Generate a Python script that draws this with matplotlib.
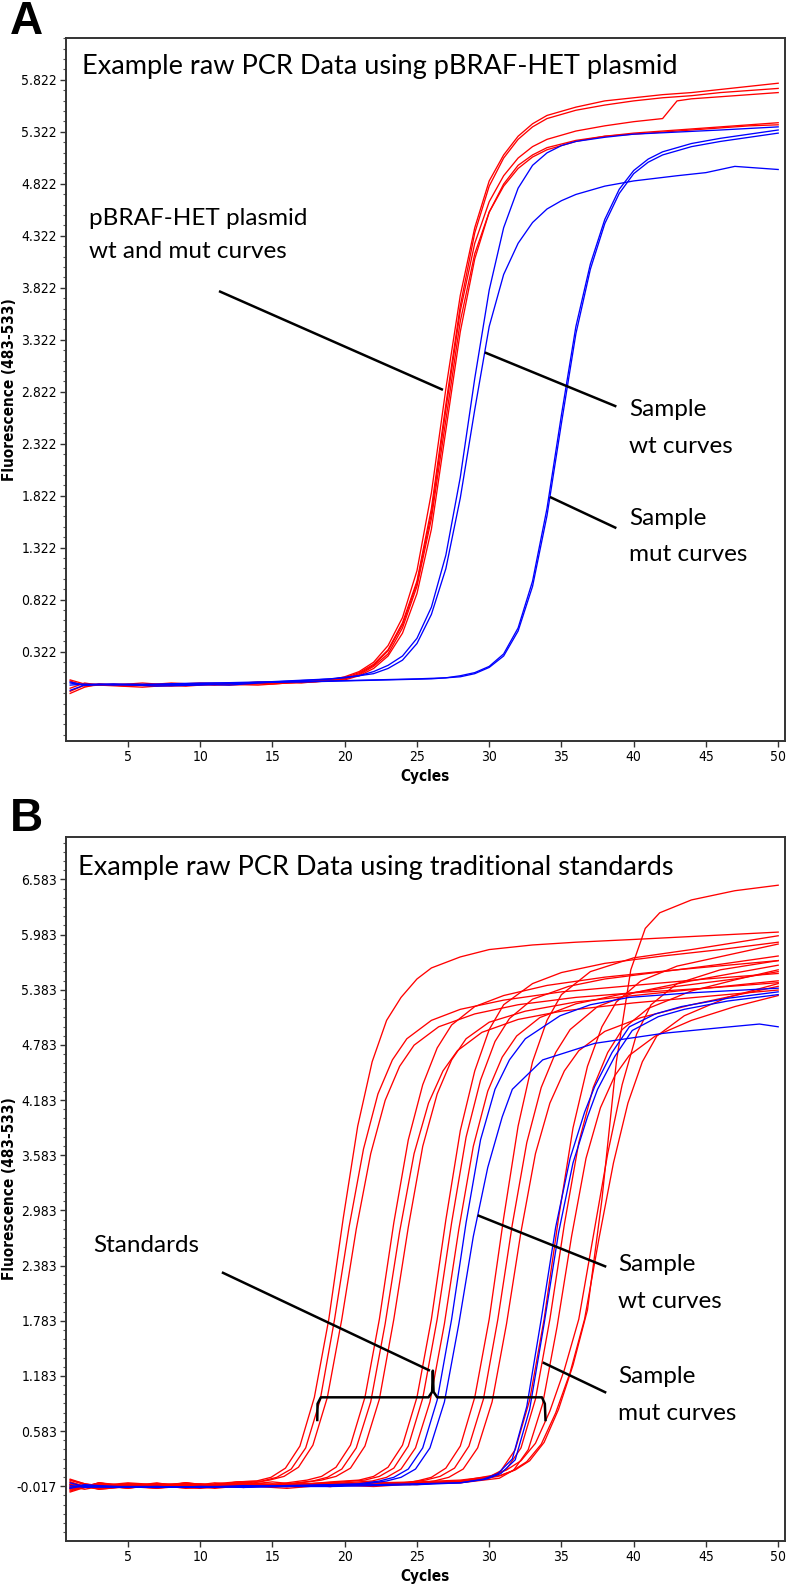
import matplotlib
matplotlib.use('Agg')
import matplotlib.pyplot as plt
from matplotlib import font_manager
from matplotlib.ticker import FixedLocator, MultipleLocator, FormatStrFormatter

# fonts: the instrument software uses a narrow sans for the axes
_fonts = {(f.name, f.stretch) for f in font_manager.fontManager.ttflist}
if any(n == 'Liberation Sans Narrow' for n, s in _fonts):
    TICK_FONT, TICK_STRETCH, TICK_SIZE = ['Liberation Sans Narrow', 'DejaVu Sans'], 'normal', 11.5
elif ('DejaVu Sans', 'condensed') in _fonts:
    TICK_FONT, TICK_STRETCH, TICK_SIZE = ['DejaVu Sans'], 'condensed', 10
else:
    TICK_FONT, TICK_STRETCH, TICK_SIZE = ['Liberation Sans', 'DejaVu Sans'], 'normal', 9.5
NOTE_FONT = ['Lato', 'DejaVu Sans']

plt.rcParams['font.family'] = TICK_FONT
plt.rcParams['font.stretch'] = TICK_STRETCH
plt.rcParams['font.size'] = TICK_SIZE

# ---------------- data: (cycle, fluorescence) ----------------
X_TICKS = [5, 10, 15, 20, 25, 30, 35, 40, 45, 50]
A_YTICKS = [0.322, 0.822, 1.322, 1.822, 2.322, 2.822, 3.322, 3.822, 4.322, 4.822, 5.322, 5.822]
B_YTICKS = [-0.017, 0.583, 1.183, 1.783, 2.383, 2.983, 3.583, 4.183, 4.783, 5.383, 5.983, 6.583]

# panel A - plasmid curves (red)
A_PLASMID = [
    [(1, -0.06), (2, 0.0), (3, 0.01), (5, -0.01), (8, 0.02), (11, 0.0), (14, 0.03), (17, 0.02), (19, 0.05),
     (20, 0.08), (21, 0.13), (22, 0.22), (23, 0.38), (24, 0.65), (25, 1.1), (26, 1.85), (27, 2.85), (28, 3.75),
     (29, 4.4), (30, 4.85), (31, 5.1), (32, 5.28), (33, 5.4), (34, 5.48), (36, 5.56), (38, 5.62), (40, 5.65),
     (42, 5.68), (44, 5.7), (46, 5.73), (48, 5.76), (50, 5.79)],
    [(1, 0.05), (2, 0.01), (4, 0.0), (6, 0.02), (9, -0.01), (12, 0.02), (15, 0.01), (18, 0.04), (20, 0.07),
     (21, 0.12), (22, 0.2), (23, 0.34), (24, 0.6), (25, 1.0), (26, 1.7), (27, 2.7), (28, 3.65), (29, 4.35),
     (30, 4.8), (31, 5.07), (32, 5.25), (33, 5.37), (34, 5.45), (36, 5.53), (38, 5.58), (40, 5.62), (42, 5.65),
     (44, 5.67), (46, 5.7), (48, 5.72), (50, 5.74)],
    [(1, -0.03), (2, 0.02), (3, 0.0), (6, -0.02), (9, 0.01), (12, 0.0), (15, 0.02), (18, 0.03), (20, 0.06),
     (21, 0.11), (22, 0.19), (23, 0.33), (24, 0.58), (25, 0.98), (26, 1.65), (27, 2.65), (28, 3.6), (29, 4.25),
     (30, 4.65), (31, 4.9), (32, 5.07), (33, 5.18), (34, 5.25), (36, 5.33), (38, 5.38), (40, 5.42), (42, 5.45),
     (43, 5.62), (44, 5.64), (46, 5.66), (48, 5.68), (50, 5.7)],
    [(1, 0.04), (2, -0.01), (4, 0.01), (7, 0.0), (10, 0.02), (13, 0.01), (16, 0.03), (19, 0.04), (20, 0.06),
     (21, 0.1), (22, 0.18), (23, 0.3), (24, 0.55), (25, 0.95), (26, 1.6), (27, 2.55), (28, 3.5), (29, 4.15),
     (30, 4.55), (31, 4.8), (32, 4.97), (33, 5.08), (34, 5.15), (36, 5.23), (38, 5.28), (40, 5.31), (42, 5.33),
     (44, 5.35), (46, 5.37), (48, 5.39), (50, 5.41)],
    [(1, -0.08), (2, -0.02), (3, 0.01), (5, 0.0), (8, -0.01), (11, 0.01), (14, 0.0), (17, 0.03), (19, 0.04),
     (20, 0.05), (21, 0.09), (22, 0.16), (23, 0.28), (24, 0.5), (25, 0.88), (26, 1.5), (27, 2.45), (28, 3.4),
     (29, 4.1), (30, 4.55), (31, 4.82), (32, 5.0), (33, 5.1), (34, 5.17), (36, 5.24), (38, 5.28), (40, 5.3),
     (42, 5.32), (44, 5.34), (46, 5.36), (48, 5.38), (50, 5.39)],
]

# panel A - sample curves (blue)
A_SAMPLE = [
    # wt
    [(1, 0.02), (2, 0.0), (4, 0.01), (7, -0.01), (10, 0.0), (13, 0.02), (16, 0.04), (19, 0.06), (21, 0.09),
     (22, 0.13), (23, 0.19), (24, 0.28), (25, 0.45), (26, 0.75), (27, 1.25), (28, 2.0), (29, 2.95), (30, 3.8),
     (31, 4.4), (32, 4.78), (33, 5.0), (34, 5.12), (35, 5.19), (36, 5.23), (38, 5.27), (40, 5.3), (43, 5.32),
     (46, 5.34), (50, 5.37)],
    [(1, -0.05), (2, 0.0), (3, 0.01), (6, 0.0), (9, 0.01), (12, 0.0), (15, 0.03), (18, 0.05), (20, 0.07),
     (22, 0.11), (23, 0.16), (24, 0.24), (25, 0.4), (26, 0.68), (27, 1.12), (28, 1.8), (29, 2.65), (30, 3.45),
     (31, 3.95), (32, 4.25), (33, 4.45), (34, 4.58), (35, 4.66), (36, 4.72), (38, 4.8), (40, 4.85), (43, 4.9),
     (45, 4.93), (47, 4.99), (48, 4.98), (50, 4.96)],
    # mut
    [(1, 0.0), (2, 0.01), (4, 0.0), (7, 0.01), (10, 0.02), (13, 0.02), (16, 0.03), (19, 0.04), (22, 0.05),
     (25, 0.06), (27, 0.07), (28, 0.09), (29, 0.12), (30, 0.18), (31, 0.3), (32, 0.55), (33, 1.0), (34, 1.7),
     (35, 2.6), (36, 3.45), (37, 4.05), (38, 4.48), (39, 4.77), (40, 4.95), (41, 5.06), (42, 5.13), (44, 5.21),
     (46, 5.26), (48, 5.3), (50, 5.34)],
    [(1, 0.03), (2, 0.0), (5, 0.01), (8, 0.0), (11, 0.02), (14, 0.03), (17, 0.03), (20, 0.04), (23, 0.05),
     (26, 0.06), (28, 0.08), (29, 0.11), (30, 0.17), (31, 0.28), (32, 0.52), (33, 0.95), (34, 1.63), (35, 2.52),
     (36, 3.38), (37, 4.0), (38, 4.44), (39, 4.73), (40, 4.92), (41, 5.03), (42, 5.1), (44, 5.18), (46, 5.23),
     (48, 5.27), (50, 5.31)],
]

# panel B - traditional standards (red)
B_STANDARDS = [
    [(1, -0.08), (2, -0.03), (3, 0.02), (5, -0.02), (7, 0.02), (9, -0.03), (11, 0.01), (12.5, 0.03), (13.9, 0.04),
     (14.9, 0.08), (15.9, 0.18), (16.9, 0.42), (17.9, 0.95), (18.9, 1.8), (19.9, 2.9), (20.9, 3.9), (21.9, 4.6),
     (22.9, 5.05), (23.9, 5.3), (25, 5.5), (26, 5.62), (28, 5.74), (30, 5.82), (33, 5.87), (36, 5.9), (40, 5.93),
     (45, 5.97), (50, 6.01)],
    [(1, 0.03), (2, -0.02), (3, -0.04), (5, 0.01), (7, -0.03), (9, 0.02), (11, -0.01), (12.5, 0.03), (14.3, 0.04),
     (15.3, 0.08), (16.3, 0.17), (17.3, 0.4), (18.3, 0.92), (19.3, 1.8), (20.3, 2.8), (21.3, 3.65), (22.3, 4.25),
     (23.3, 4.62), (24.3, 4.85), (26, 5.05), (28, 5.17), (31, 5.27), (35, 5.36), (40, 5.43), (45, 5.5), (50, 5.56)],
    [(1, -0.04), (2, -0.01), (3, -0.05), (5, -0.02), (7, 0.01), (9, -0.02), (11, 0.02), (13, 0.0), (14.8, 0.05),
     (15.8, 0.09), (16.8, 0.19), (17.8, 0.43), (18.8, 0.95), (19.8, 1.8), (20.8, 2.78), (21.8, 3.6), (22.8, 4.18),
     (23.8, 4.55), (24.8, 4.78), (26.5, 4.98), (29, 5.12), (32, 5.22), (36, 5.3), (40, 5.35), (45, 5.4), (50, 5.46)],
    [(1, 0.0), (2, -0.02), (3, 0.02), (5, -0.03), (7, -0.02), (9, 0.02), (11, -0.01), (13, 0.03), (15, 0.0),
     (16, 0.02), (17.4, 0.05), (18.4, 0.09), (19.4, 0.19), (20.4, 0.43), (21.4, 0.95), (22.4, 1.8), (23.4, 2.85),
     (24.4, 3.75), (25.4, 4.35), (26.4, 4.75), (27.4, 5.0), (29, 5.2), (31, 5.32), (34, 5.43), (38, 5.52), (43, 5.6),
     (50, 5.7)],
    [(1, -0.06), (2, -0.03), (3, -0.01), (5, 0.02), (7, 0.0), (9, -0.04), (11, -0.02), (13, 0.02), (15, -0.01),
     (16, 0.01), (17.8, 0.04), (18.8, 0.08), (19.8, 0.17), (20.8, 0.4), (21.8, 0.9), (22.8, 1.75), (23.8, 2.75),
     (24.8, 3.6), (25.8, 4.15), (26.8, 4.5), (27.8, 4.72), (29.5, 4.92), (32, 5.06), (35, 5.15), (40, 5.24),
     (45, 5.31), (50, 5.38)],
    [(1, 0.05), (2, 0.0), (3, -0.03), (5, -0.01), (7, -0.04), (9, 0.0), (11, -0.02), (13, 0.02), (15, -0.02),
     (16.5, 0.01), (18.4, 0.05), (19.4, 0.09), (20.4, 0.18), (21.4, 0.42), (22.4, 0.93), (23.4, 1.8), (24.4, 2.8),
     (25.4, 3.68), (26.4, 4.25), (27.4, 4.62), (28.4, 4.85), (30, 5.03), (32.5, 5.15), (36, 5.25), (40, 5.32),
     (45, 5.4), (50, 5.48)],
    [(1, -0.02), (2, -0.05), (3, -0.02), (5, 0.01), (7, -0.01), (9, 0.02), (11, -0.03), (13, 0.0), (15, 0.03),
     (17, 0.0), (19, 0.03), (21, 0.05), (22, 0.09), (23, 0.19), (24, 0.43), (25, 0.95), (26, 1.8), (27, 2.88),
     (28, 3.85), (29, 4.5), (30, 4.95), (31, 5.22), (33, 5.45), (35, 5.57), (38, 5.67), (42, 5.75), (46, 5.82),
     (50, 5.9)],
    [(1, 0.06), (2, 0.01), (3, -0.02), (5, 0.0), (7, -0.03), (9, 0.01), (11, -0.01), (13, 0.02), (15, -0.02),
     (17, 0.01), (19, 0.02), (21.4, 0.05), (22.4, 0.09), (23.4, 0.18), (24.4, 0.42), (25.4, 0.94), (26.4, 1.8),
     (27.4, 2.85), (28.4, 3.78), (29.4, 4.4), (30.4, 4.82), (31.4, 5.07), (33, 5.28), (35.5, 5.42), (38, 5.5),
     (42, 5.58), (46, 5.66), (50, 5.75)],
    [(1, -0.07), (2, -0.02), (3, -0.04), (5, -0.01), (7, -0.03), (9, 0.0), (11, -0.04), (13, -0.01), (15, 0.01),
     (17, -0.02), (19, 0.01), (21.9, 0.04), (22.9, 0.08), (23.9, 0.17), (24.9, 0.4), (25.9, 0.9), (26.9, 1.75),
     (27.9, 2.78), (28.9, 3.68), (29.9, 4.28), (30.9, 4.65), (31.9, 4.88), (33.5, 5.08), (36, 5.23), (39, 5.33),
     (43, 5.42), (47, 5.5), (50, 5.58)],
    [(1, 0.0), (2, -0.02), (3, 0.01), (5, -0.02), (7, -0.04), (10, 0.0), (13, -0.03), (16, 0.01), (19, -0.01),
     (22, 0.03), (24, 0.01), (25, 0.04), (26, 0.08), (27, 0.18), (28, 0.42), (29, 0.95), (30, 1.8), (31, 2.9),
     (32, 3.9), (33, 4.6), (34, 5.05), (35, 5.33), (37, 5.58), (40, 5.73), (44, 5.82), (50, 5.97)],
    [(1, -0.03), (2, 0.0), (3, -0.03), (5, 0.01), (7, 0.0), (10, -0.03), (13, 0.01), (16, -0.02), (19, 0.02),
     (22, -0.01), (24, 0.02), (25.6, 0.05), (26.6, 0.09), (27.6, 0.18), (28.6, 0.42), (29.6, 0.93), (30.6, 1.8),
     (31.6, 2.83), (32.6, 3.72), (33.6, 4.32), (34.6, 4.7), (35.6, 4.95), (37.5, 5.2), (40, 5.35), (44, 5.48),
     (50, 5.65)],
    [(1, 0.05), (2, 0.01), (3, -0.01), (5, -0.03), (7, -0.02), (10, -0.04), (13, -0.01), (16, 0.01), (19, -0.02),
     (22, 0.02), (24.5, 0.0), (26.2, 0.04), (27.2, 0.08), (28.2, 0.17), (29.2, 0.4), (30.2, 0.9), (31.2, 1.75),
     (32.2, 2.75), (33.2, 3.6), (34.2, 4.15), (35.2, 4.5), (36.2, 4.72), (38, 4.93), (40.5, 5.08), (44, 5.22),
     (47, 5.32), (50, 5.42)],
    [(1, -0.02), (2, -0.01), (3, -0.04), (5, -0.02), (7, 0.01), (10, 0.0), (13, -0.03), (16, 0.0), (19, -0.02),
     (22, 0.02), (25, 0.0), (28, 0.04), (29.8, 0.07), (30.8, 0.15), (31.8, 0.38), (32.8, 0.92), (33.8, 1.8),
     (34.8, 2.9), (35.8, 3.88), (36.8, 4.55), (37.8, 4.98), (38.8, 5.25), (40.5, 5.48), (43, 5.64), (46.5, 5.76),
     (50, 5.88)],
    [(1, 0.03), (2, -0.02), (3, 0.0), (5, -0.04), (7, 0.01), (10, -0.01), (13, 0.02), (16, -0.02), (19, 0.01),
     (22, -0.01), (25, 0.02), (28, 0.03), (30.2, 0.08), (31.2, 0.17), (32.2, 0.4), (33.2, 0.93), (34.2, 1.8),
     (35.2, 2.83), (36.2, 3.72), (37.2, 4.32), (38.2, 4.7), (39.2, 4.95), (41, 5.18), (44, 5.37), (47, 5.49),
     (50, 5.6)],
    [(1, -0.05), (2, -0.03), (3, -0.01), (5, -0.04), (7, 0.0), (10, -0.03), (13, -0.01), (16, -0.04), (19, 0.0),
     (22, -0.02), (25, 0.01), (28, 0.02), (30.7, 0.07), (31.7, 0.16), (32.7, 0.38), (33.7, 0.88), (34.7, 1.72),
     (35.7, 2.7), (36.7, 3.55), (37.7, 4.1), (38.7, 4.45), (39.7, 4.67), (41.5, 4.88), (44, 5.05), (47, 5.2),
     (50, 5.32)],
    [(1, 0.01), (2, -0.02), (3, 0.02), (5, -0.01), (7, -0.03), (10, 0.01), (13, -0.02), (16, 0.0), (19, 0.02),
     (22, 0.0), (25, 0.02), (28, 0.04), (30.2, 0.1), (31.2, 0.16), (32.2, 0.26), (33.2, 0.45), (34.2, 0.8),
     (35.2, 1.25), (36.2, 1.8), (37.2, 2.7), (38.2, 3.6), (39.2, 4.35), (40.2, 4.9), (41.2, 5.22), (43, 5.45),
     (46, 5.6), (50, 5.7)],
    [(1, -0.04), (2, -0.02), (3, -0.05), (5, -0.02), (7, -0.01), (10, -0.03), (13, 0.0), (16, -0.02), (19, 0.01),
     (22, -0.01), (25, 0.02), (28, 0.03), (30.6, 0.09), (31.6, 0.15), (32.6, 0.25), (33.6, 0.44), (34.6, 0.78),
     (35.6, 1.22), (36.6, 1.8), (37.6, 2.68), (38.6, 3.5), (39.6, 4.15), (40.6, 4.6), (41.6, 4.88), (43.5, 5.1),
     (46.5, 5.3), (50, 5.45)],
    [(1, 0.0), (2, -0.03), (3, 0.01), (5, -0.03), (7, -0.02), (10, 0.0), (13, -0.02), (16, -0.01), (19, 0.01),
     (22, 0.02), (25, 0.03), (28, 0.05), (30.8, 0.1), (31.8, 0.16), (32.8, 0.26), (33.8, 0.46), (34.8, 0.82),
     (35.8, 1.3), (36.8, 1.9), (37.8, 3.1), (38.8, 4.6), (39.8, 5.6), (40.8, 6.05), (41.8, 6.22), (44, 6.36),
     (47, 6.46), (50, 6.52)],
]

# panel B - sample curves (blue)
B_SAMPLE = [
    # wt
    [(1, -0.03), (2, 0.0), (4, -0.02), (7, -0.03), (10, -0.02), (13, -0.02), (16, -0.01), (19, 0.0), (21, 0.01),
     (22.4, 0.04), (23.4, 0.08), (24.4, 0.17), (25.4, 0.4), (26.4, 0.92), (27.4, 1.8), (28.4, 2.85), (29.4, 3.75),
     (30.4, 4.3), (31.4, 4.62), (32.5, 4.85), (34.9, 5.1), (37, 5.22), (39.7, 5.3), (44, 5.35), (50, 5.4)],
    [(1, 0.02), (2, -0.02), (4, -0.03), (7, -0.02), (10, -0.03), (13, -0.01), (16, -0.02), (19, 0.0), (21, 0.0),
     (22.9, 0.04), (23.9, 0.08), (24.9, 0.17), (25.9, 0.4), (26.9, 0.9), (27.9, 1.75), (28.9, 2.7), (29.9, 3.45),
     (30.9, 4.0), (31.6, 4.3), (33.7, 4.62), (37.3, 4.8), (42.1, 4.91), (46, 4.97), (48.7, 5.01), (50, 4.98)],
    # mut
    [(1, -0.04), (2, -0.01), (4, -0.02), (7, -0.03), (10, -0.02), (13, -0.03), (16, -0.02), (19, -0.02), (22, -0.01),
     (25, 0.0), (28, 0.02), (29.6, 0.06), (30.6, 0.12), (31.6, 0.28), (32.6, 0.85), (33.6, 1.8), (34.6, 2.8),
     (35.6, 3.55), (36.6, 4.05), (37.3, 4.33), (38.5, 4.7), (39.7, 4.98), (41.5, 5.12), (43.3, 5.2), (46.5, 5.29),
     (50, 5.36)],
    [(1, -0.01), (2, -0.03), (4, -0.02), (7, -0.02), (10, -0.03), (13, -0.02), (16, -0.01), (19, -0.01), (22, 0.0),
     (25, 0.01), (28, 0.02), (29.8, 0.06), (30.8, 0.12), (31.8, 0.27), (32.8, 0.82), (33.8, 1.75), (34.8, 2.74),
     (35.8, 3.5), (36.8, 4.0), (37.5, 4.3), (38.7, 4.66), (39.9, 4.94), (41.7, 5.09), (43.5, 5.17), (46.5, 5.26),
     (50, 5.33)],
]

# ---------------- figure ----------------
fig = plt.figure(figsize=(7.91, 15.92), dpi=100)
ax_a = fig.add_axes([0.0834, 0.5346, 0.909, 0.4414])
ax_b = fig.add_axes([0.0834, 0.0323, 0.909, 0.4417])


def draw_curves(ax, curves, color):
    for curve in curves:
        xs = [p[0] for p in curve]
        ys = [p[1] for p in curve]
        ax.plot(xs, ys, color=color, lw=0.95, solid_joinstyle='round')


def style_axes(ax, yticks, ylim, minor_offset):
    ax.set_xlim(0.71, 50.47)
    ax.set_ylim(*ylim)
    ax.xaxis.set_major_locator(FixedLocator(X_TICKS))
    ax.yaxis.set_major_locator(FixedLocator(yticks))
    ax.yaxis.set_minor_locator(MultipleLocator(0.1, offset=minor_offset))
    ax.yaxis.set_major_formatter(FormatStrFormatter('%.3f'))
    for sp in ax.spines.values():
        sp.set_color('#333333')
        sp.set_linewidth(1.4)
    ax.tick_params(axis='both', which='major', direction='out', length=4, width=1,
                   color='#333333', labelsize=TICK_SIZE, pad=2.5)
    ax.tick_params(axis='y', which='minor', direction='out', length=2.2, width=0.8, color='#555555')
    ax.set_xlabel('Cycles', fontweight='bold', fontsize=TICK_SIZE + 1)
    ax.set_ylabel('Fluorescence (483-533)', fontweight='bold', fontsize=TICK_SIZE + 1,
                  va='center')
    ax.xaxis.set_label_coords(0.5, -0.04)
    ax.yaxis.set_label_coords(-0.078, 0.5)


def note(ax, x, y, s, size=17.5):
    ax.text(x, y, s, family=NOTE_FONT, fontstretch='normal', fontsize=size, ha='left', va='center',
            color='black', zorder=6)


def pointer(ax, xs, ys):
    ax.plot(xs, ys, color='black', lw=1.8, zorder=5, solid_capstyle='butt')


# panel A
draw_curves(ax_a, A_PLASMID, '#ff0000')
draw_curves(ax_a, A_SAMPLE, '#0000ff')
style_axes(ax_a, A_YTICKS, (-0.537, 6.223), 0.022)
note(ax_a, 1.82, 5.95, 'Example raw PCR Data using pBRAF-HET plasmid', size=19.5)
note(ax_a, 2.3, 4.49, 'pBRAF-HET plasmid')
note(ax_a, 2.3, 4.17, 'wt and mut curves')
pointer(ax_a, [11.3, 26.8], [3.79, 2.84])
pointer(ax_a, [29.7, 38.8], [3.2, 2.68])
note(ax_a, 39.7, 2.65, 'Sample')
note(ax_a, 39.7, 2.30, 'wt curves')
pointer(ax_a, [34.2, 38.8], [1.81, 1.51])
note(ax_a, 39.7, 1.60, 'Sample')
note(ax_a, 39.7, 1.26, 'mut curves')

# panel B
draw_curves(ax_b, B_STANDARDS, '#ff0000')
draw_curves(ax_b, B_SAMPLE, '#0000ff')
style_axes(ax_b, B_YTICKS, (-0.608, 7.04), 0.083)
note(ax_b, 1.54, 6.71, 'Example raw PCR Data using traditional standards', size=19.5)
note(ax_b, 2.58, 2.60, 'Standards')
pointer(ax_b, [11.5, 25.9], [2.31, 1.24])
# brace under the standards
pointer(ax_b, [18.1, 18.12, 18.35, 25.8, 26.05, 26.1, 26.15, 26.4, 33.65, 33.85, 33.9],
        [0.69, 0.88, 0.95, 0.95, 1.01, 1.24, 1.01, 0.95, 0.95, 0.88, 0.69])
pointer(ax_b, [29.2, 38.1], [2.93, 2.37])
note(ax_b, 38.9, 2.40, 'Sample')
note(ax_b, 38.9, 1.99, 'wt curves')
pointer(ax_b, [33.7, 38.1], [1.33, 1.0])
note(ax_b, 38.9, 1.18, 'Sample')
note(ax_b, 38.9, 0.77, 'mut curves')

# panel letters
for label, ypx in (('A', 22), ('B', 819)):
    fig.text(0.012, 1 - ypx / 1592, label, fontsize=33, fontweight='bold', fontstretch='normal',
             family=['Liberation Sans', 'DejaVu Sans'], va='center', ha='left')

fig.savefig('out.png', dpi=100, facecolor='white')
